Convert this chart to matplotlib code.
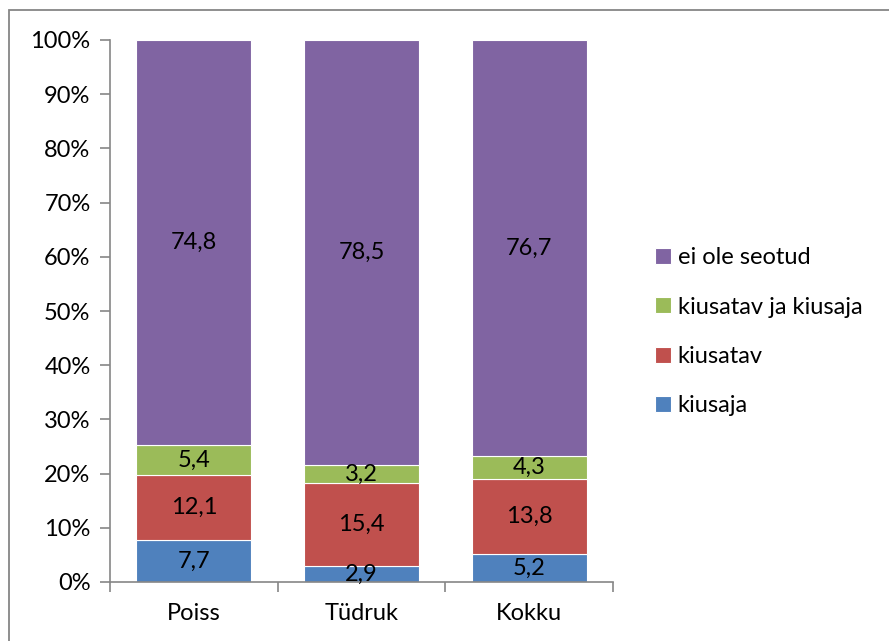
import numpy as np
import matplotlib.pyplot as plt
import matplotlib.patches as mpatches

plt.rcParams['font.family'] = ['Lato', 'DejaVu Sans']

categories = ['Poiss', 'Tüdruk', 'Kokku']
series_names = ['kiusaja', 'kiusatav', 'kiusatav ja kiusaja', 'ei ole seotud']
kiusaja = [7.7, 2.9, 5.2]
kiusatav = [12.1, 15.4, 13.8]
molemad = [5.4, 3.2, 4.3]
ei_ole = [74.8, 78.5, 76.7]
colors = ['#4F81BD', '#C0504D', '#9BBB59', '#8064A2']

W, H = 889, 641
fs = 17
fig = plt.figure(figsize=(W / 100, H / 100), dpi=100)
ax = fig.add_axes([110 / W, 1 - 582 / H, (613 - 110) / W, (582 - 40) / H])

# frame round the chart area (cut at the right and bottom edges)
frame = mpatches.Rectangle((9 / W, -0.2), 1.2, 1.2 - 10 / H,
                           transform=fig.transFigure, fill=False,
                           ec='#868686', lw=1.3)
fig.patches.append(frame)

x = np.arange(len(categories))
bottom = np.zeros(len(categories))
handles = []
for vals, name, c in zip([kiusaja, kiusatav, molemad, ei_ole], series_names, colors):
    vals = np.array(vals)
    bars = ax.bar(x, vals, 0.685, bottom=bottom, color=c, edgecolor='white',
                  linewidth=0.8, label=name)
    handles.append(bars)
    for xi, b, v in zip(x, bottom, vals):
        ax.text(xi, b + v / 2, ('%.1f' % v).replace('.', ','), ha='center',
                va='center', fontsize=fs, color='black')
    bottom += vals

ax.set_xlim(-0.5, 2.5)
ax.set_ylim(0, 100)
ax.set_yticks(np.arange(0, 101, 10))
ax.set_yticklabels(['%d%%' % v for v in range(0, 101, 10)])
ax.set_xticks(x)
ax.set_xticklabels(categories)
ax.set_xticks([-0.5, 0.5, 1.5, 2.5], minor=True)
ax.tick_params(axis='x', which='major', length=0, pad=15, labelsize=fs)
ax.tick_params(axis='x', which='minor', length=7, color='#868686', width=1.2)
ax.tick_params(axis='y', length=7, color='#868686', width=1.2, labelsize=fs, pad=7)
for s in ['top', 'right']:
    ax.spines[s].set_visible(False)
for s in ['left', 'bottom']:
    ax.spines[s].set_color('#868686')
    ax.spines[s].set_linewidth(1.2)

leg = fig.legend(handles[::-1], series_names[::-1], loc='upper left',
                 bbox_to_anchor=(634 / W, 1 - 226 / H), frameon=False,
                 fontsize=fs, handlelength=0.65, handleheight=0.65,
                 handletextpad=0.3, labelspacing=1.2)

fig.savefig('out.png', dpi=100)
